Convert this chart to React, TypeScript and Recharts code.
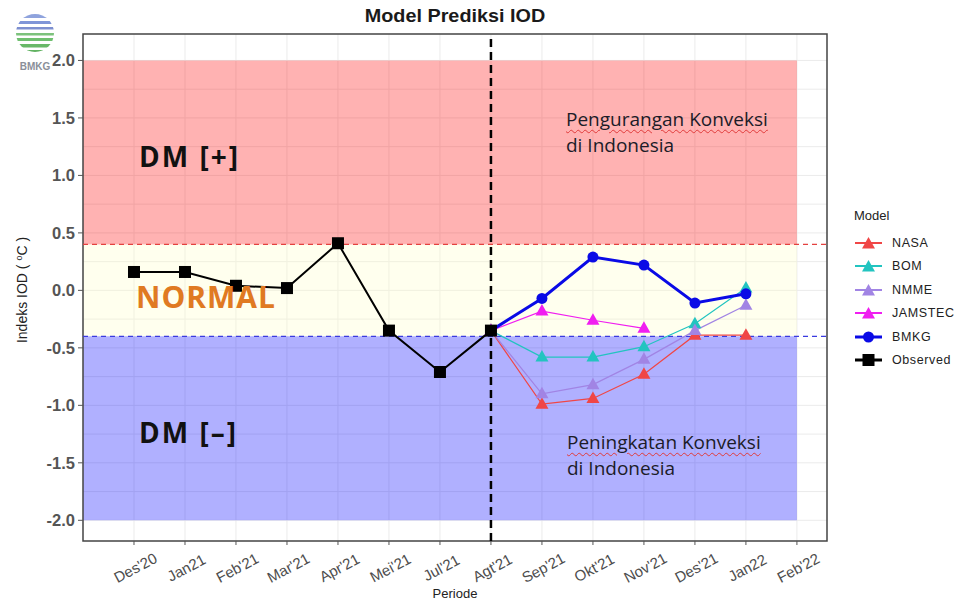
import React from 'react';
import {
    ComposedChart,
    Line,
    XAxis,
    YAxis,
    CartesianGrid,
    ReferenceArea,
    ReferenceLine
} from 'recharts';

// periode (tidak ada Jun'21 di grafik asli)
const categories = ["Des'20", 'Jan21', "Feb'21", "Mar'21", "Apr'21", "Mei'21", "Jul'21", "Agt'21", "Sep'21", "Okt'21", "Nov'21", "Des'21", 'Jan22', "Feb'22"];

const observed = [0.16, 0.16, 0.04, 0.02, 0.41, -0.35, -0.71, -0.35, null, null, null, null, null, null];
const nasa = [null, null, null, null, null, null, null, -0.35, -0.99, -0.94, -0.73, -0.39, -0.39, null];
const bom = [null, null, null, null, null, null, null, -0.35, -0.58, -0.58, -0.49, -0.29, 0.02, null];
const nmme = [null, null, null, null, null, null, null, -0.35, -0.90, -0.82, -0.60, -0.35, -0.13, null];
const jamstec = [null, null, null, null, null, null, null, -0.35, -0.18, -0.26, -0.33, null, null, null];
const bmkg = [null, null, null, null, null, null, null, -0.35, -0.07, 0.29, 0.22, -0.11, -0.03, null];

const yTicks = [-2, -1.5, -1, -0.5, 0, 0.5, 1, 1.5, 2];
const gridY = [-2, -1.75, -1.5, -1.25, -1, -0.75, -0.5, -0.25, 0, 0.25, 0.5, 0.75, 1, 1.25, 1.5, 1.75, 2];
const xTicks = categories.map((_, i) => i);

const X_MIN = -1;
const X_MAX = 13.59;
const Y_MIN = -2.18;
const Y_MAX = 2.23;

const series = [
    { key: 'NASA', values: nasa, color: '#f04646', width: 1.2, shape: 'tri' },
    { key: 'BOM', values: bom, color: '#22c4c0', width: 1.2, shape: 'tri' },
    { key: 'NMME', values: nmme, color: '#a184e4', width: 1.2, shape: 'tri' },
    { key: 'JAMSTEC', values: jamstec, color: '#f01ef0', width: 1.2, shape: 'tri' },
    { key: 'BMKG', values: bmkg, color: '#0a0ae6', width: 3, shape: 'circle' },
    { key: 'Observed', values: observed, color: '#000000', width: 2, shape: 'square' }
];

const data = categories.map((c, i) => {
    const row: any = { x: i, name: c };
    series.forEach(s => { row[s.key] = s.values[i]; });
    return row;
});

function marker(shape: string, color: string, cx: number, cy: number, key?: any) {
    if (shape === 'tri') {
        return <path key={key} d={`M${cx},${cy - 7}L${cx + 6.5},${cy + 4.5}L${cx - 6.5},${cy + 4.5}Z`} fill={color} />;
    }
    if (shape === 'circle') {
        return <circle key={key} cx={cx} cy={cy} r={5.5} fill={color} />;
    }
    return <rect key={key} x={cx - 6} y={cy - 6} width={12} height={12} fill={color} />;
}

const makeDot = (shape: string, color: string) => (p: any) => {
    const { cx, cy, index, value } = p;
    if (cx == null || cy == null || value == null) return <g key={index} />;
    return marker(shape, color, cx, cy, index);
};

const XTick = ({ x, payload }: any) => (
    <g transform={`translate(${x + 2},${569}) rotate(-28)`}>
        <text textAnchor="middle" dominantBaseline="middle" fontSize={15} fill="#4d4d4d"
            fontFamily="'Liberation Sans', Arial, sans-serif">
            {categories[payload.value]}
        </text>
    </g>
);

function Logo() {
    return (
        <svg width={60} height={75} style={{ position: 'absolute', left: 8, top: 8 }}>
            <defs>
                <clipPath id="logoClip"><circle cx={27} cy={25} r={19} /></clipPath>
            </defs>
            <g clipPath="url(#logoClip)">
                <rect x={0} y={6} width={60} height={4} fill="#8fa3dd" />
                <rect x={0} y={13} width={60} height={3} fill="#7f95d8" />
                <rect x={0} y={19} width={60} height={2.5} fill="#7d8fd0" />
                <rect x={0} y={25} width={60} height={2.5} fill="#7cc27c" />
                <rect x={0} y={30} width={60} height={3} fill="#6fbf6f" />
                <rect x={0} y={36} width={60} height={3.5} fill="#68b868" />
                <rect x={0} y={42} width={60} height={4} fill="#62b262" />
            </g>
            <text x={27} y={62} textAnchor="middle" fontSize={10} fontWeight="bold" fill="#8a8f99"
                fontFamily="'Liberation Sans', Arial, sans-serif">BMKG</text>
        </svg>
    );
}

export default function App() {
    const sans = "'Liberation Sans', Arial, sans-serif";
    const bigFont = "'Open Sans', sans-serif";
    const wavy = { textDecoration: 'underline wavy #e03a3a', textDecorationThickness: '1px', textUnderlineOffset: '3px' };
    const noteLine = { position: 'absolute' as const, fontFamily: bigFont, fontSize: 19, lineHeight: '26px', height: 26, color: '#1c1c28', whiteSpace: 'nowrap' as const };

    return (
        <div style={{ position: 'relative', width: 966, height: 606, background: '#fff', overflow: 'hidden' }}>
            <style>{'body{margin:0}'}</style>
            <ComposedChart
                width={966}
                height={606}
                data={data}
                margin={{ top: 34, right: 139, bottom: 0, left: 0 }}
            >
                <CartesianGrid stroke="#ebebeb" strokeWidth={1}
                    horizontalValues={gridY} verticalValues={xTicks} />
                <XAxis
                    type="number"
                    dataKey="x"
                    domain={[X_MIN, X_MAX]}
                    ticks={xTicks}
                    allowDataOverflow
                    axisLine={false}
                    tickLine={{ stroke: '#555' }}
                    tickSize={4}
                    height={65}
                    interval={0}
                    tick={<XTick />}
                />
                <YAxis
                    type="number"
                    domain={[Y_MIN, Y_MAX]}
                    ticks={yTicks}
                    allowDataOverflow
                    axisLine={false}
                    tickLine={{ stroke: '#555' }}
                    tickSize={5}
                    tickMargin={3}
                    width={83}
                    tickFormatter={(v: number) => v.toFixed(1)}
                    tick={{ fill: '#555', fontSize: 16.5, fontWeight: 'bold', fontFamily: sans }}
                />

                <ReferenceArea x1={X_MIN} x2={13} y1={0.4} y2={2} fill="#ff0000" fillOpacity={0.3} stroke="none" />
                <ReferenceArea x1={X_MIN} x2={13} y1={-0.4} y2={0.4} fill="#ffffc8" fillOpacity={0.3} stroke="none" />
                <ReferenceArea x1={X_MIN} x2={13} y1={-2} y2={-0.4} fill="#0000ff" fillOpacity={0.31} stroke="none" />

                <ReferenceLine y={0.4} stroke="#e4403f" strokeWidth={1.3} strokeDasharray="5 4" />
                <ReferenceLine y={-0.4} stroke="#3a3ae0" strokeWidth={1.3} strokeDasharray="5 4" />
                <ReferenceLine x={7} stroke="#000" strokeWidth={2.5} strokeDasharray="8 5" />

                {series.map(s => (
                    <Line
                        key={s.key}
                        dataKey={s.key}
                        type="linear"
                        stroke={s.color}
                        strokeWidth={s.width}
                        dot={makeDot(s.shape, s.color)}
                        activeDot={false}
                        connectNulls={false}
                        isAnimationActive={false}
                    />
                ))}

                <ReferenceArea x1={X_MIN} x2={X_MAX} y1={Y_MIN} y2={Y_MAX} fill="none" stroke="#444" strokeWidth={1.5} />
            </ComposedChart>

            <Logo />

            {/* judul dan label sumbu */}
            <div style={{ position: 'absolute', left: 255, width: 400, top: 6, textAlign: 'center', fontFamily: sans, fontWeight: 'bold', fontSize: 18, color: '#1a1a1a', transform: 'scaleX(1.1)' }}>
                Model Prediksi IOD
            </div>
            <div style={{ position: 'absolute', left: 355, width: 200, top: 586, textAlign: 'center', fontFamily: sans, fontSize: 13, color: '#222' }}>
                Periode
            </div>
            <div style={{ position: 'absolute', left: 22, top: 290, transform: 'translate(-50%,-50%) rotate(-90deg)', whiteSpace: 'nowrap', fontFamily: sans, fontSize: 14, color: '#222' }}>
                Indeks IOD ( <sup style={{ fontSize: 9 }}>o</sup>C )
            </div>

            {/* anotasi di dalam panel */}
            <div style={{ position: 'absolute', left: 139, top: 142, fontFamily: bigFont, fontWeight: 'bold', fontSize: 28, lineHeight: '28px', color: '#111', letterSpacing: 2, whiteSpace: 'nowrap' }}>
                DM [+]
            </div>
            <div style={{ position: 'absolute', left: 136, top: 282, fontFamily: bigFont, fontWeight: 'bold', fontSize: 30, lineHeight: '30px', color: '#e07a22', letterSpacing: 1, whiteSpace: 'nowrap' }}>
                NORMAL
            </div>
            <div style={{ position: 'absolute', left: 139, top: 418, fontFamily: bigFont, fontWeight: 'bold', fontSize: 28, lineHeight: '28px', color: '#111', letterSpacing: 2, whiteSpace: 'nowrap' }}>
                DM [–]
            </div>
            <div style={{ ...noteLine, left: 566, top: 106 }}>
                <span style={wavy}>Pengurangan Konveksi</span>
            </div>
            <div style={{ ...noteLine, left: 566, top: 132 }}>di Indonesia</div>
            <div style={{ ...noteLine, left: 567, top: 429 }}>
                <span style={wavy}>Peningkatan Konveksi</span>
            </div>
            <div style={{ ...noteLine, left: 567, top: 455 }}>di Indonesia</div>

            {/* legenda */}
            <div style={{ position: 'absolute', left: 854, top: 208, fontFamily: sans, fontSize: 13, color: '#222' }}>
                Model
            </div>
            {series.map((s, i) => (
                <div key={s.key} style={{ position: 'absolute', left: 854, top: 243 + i * 23.4 - 10, height: 20, display: 'flex', alignItems: 'center' }}>
                    <svg width={30} height={20}>
                        <line x1={1} y1={10} x2={28} y2={10} stroke={s.color} strokeWidth={s.shape === 'tri' ? 2 : 3} />
                        {marker(s.shape, s.color, 14.5, s.shape === 'tri' ? 11 : 10)}
                    </svg>
                    <span style={{ marginLeft: 8, fontFamily: sans, fontSize: 12.5, color: '#222', letterSpacing: 0.6 }}>{s.key}</span>
                </div>
            ))}
        </div>
    );
}
